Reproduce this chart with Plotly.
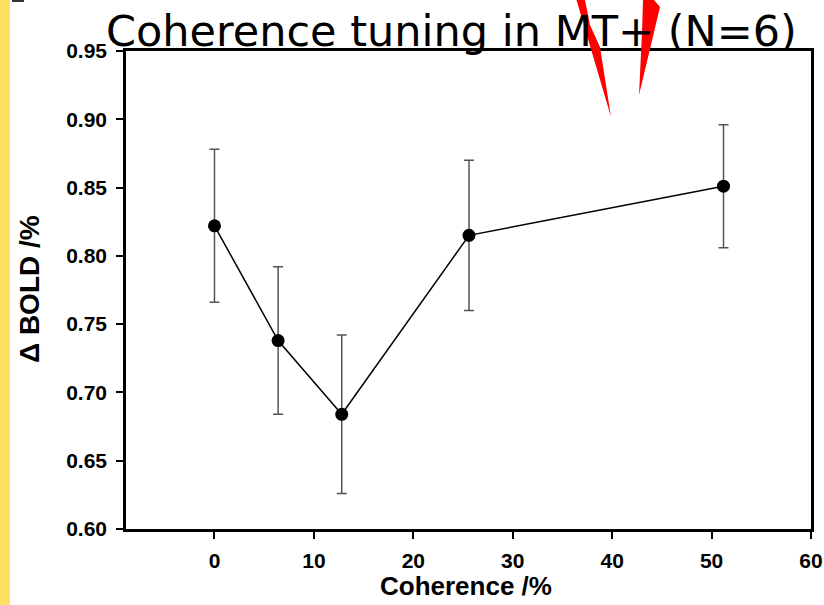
import plotly.graph_objects as go

# Data
coherence = [0, 6.4, 12.8, 25.6, 51.2]
bold_change = [0.822, 0.738, 0.684, 0.815, 0.851]
bold_err = [0.056, 0.054, 0.058, 0.055, 0.045]
x_ticks = [0, 10, 20, 30, 40, 50, 60]
y_ticks = [0.60, 0.65, 0.70, 0.75, 0.80, 0.85, 0.90, 0.95]
y_tick_labels = ["0.60", "0.65", "0.70", "0.75", "0.80", "0.85", "0.90", "0.95"]

W, H = 824, 605
L, T, PW, PH = 126, 51, 685, 478
R = W - L - PW
B = H - T - PH


def px(x):
    return (x - L) / PW


def py(y):
    return 1 - (y - T) / PH


fig = go.Figure()
fig.add_trace(go.Scatter(
    x=coherence, y=bold_change,
    mode="lines+markers",
    line=dict(color="black", width=1.5),
    marker=dict(color="black", size=13),
    error_y=dict(type="data", array=bold_err, visible=True,
                 color="#555555", thickness=1.5, width=5),
    showlegend=False,
))

tickfont = dict(family="Liberation Sans, Arial, sans-serif", size=21,
                color="black", weight="bold")
axis_common = dict(
    showgrid=False, zeroline=False, showline=True, linecolor="black",
    linewidth=2.5, mirror=True, ticks="outside", ticklen=7, tickwidth=1.5,
    tickcolor="black", tickfont=tickfont, automargin=False,
)

fig.update_xaxes(range=[-8.9, 60], tickvals=x_ticks, ticklabelstandoff=4,
                 **axis_common)
fig.update_yaxes(range=[0.60, 0.95], tickvals=y_ticks, ticktext=y_tick_labels,
                 ticklabelstandoff=5, **axis_common)

shapes = []
# yellow strip on the left
shapes.append(dict(type="rect", xref="paper", yref="paper",
                   x0=px(0), x1=px(10), y0=py(H), y1=py(0),
                   fillcolor="#FFE066", line=dict(width=0), layer="below"))
# small dark fragment at top-left
shapes.append(dict(type="rect", xref="paper", yref="paper",
                   x0=px(12), x1=px(24), y0=py(2), y1=py(0),
                   fillcolor="#333333", line=dict(width=0)))


def path_from(points):
    return "M " + " L ".join(f"{px(a):.5f},{py(b):.5f}" for a, b in points) + " Z"


# red arrow heads
shapes.append(dict(type="path", xref="paper", yref="paper",
                   path=path_from([(576.5, 0), (585, 0), (590, 25), (600, 47), (611, 117)]),
                   fillcolor="#FF0000", line=dict(width=0)))
shapes.append(dict(type="path", xref="paper", yref="paper",
                   path=path_from([(643, 0), (654, 0), (660, 7), (639, 95), (642, 33)]),
                   fillcolor="#FF0000", line=dict(width=0)))

annotations = [
    dict(text="Coherence tuning in MT+ (N=6)", xref="paper", yref="paper",
         x=px(104), y=py(31), xanchor="left", yanchor="middle", showarrow=False,
         font=dict(family="DejaVu Sans, Verdana, sans-serif", size=43, color="black")),
    dict(text="Coherence /%", xref="paper", yref="paper",
         x=px(466), y=py(586), xanchor="center", yanchor="middle", showarrow=False,
         borderpad=0,
         font=dict(family="Liberation Sans, Arial, sans-serif", size=26,
                   color="black", weight="bold")),
    dict(text="Δ BOLD /%", xref="paper", yref="paper",
         x=px(29), y=py(289), xanchor="center", yanchor="middle", showarrow=False,
         textangle=-90,
         font=dict(family="Liberation Sans, Arial, sans-serif", size=28,
                   color="black", weight="bold")),
]

fig.update_layout(
    width=W, height=H,
    margin=dict(l=L, r=R, t=T, b=B, pad=0, autoexpand=False),
    paper_bgcolor="white", plot_bgcolor="white",
    shapes=shapes, annotations=annotations,
)

fig.write_html(
    "out.html",
    config={"displayModeBar": False},
    post_script="document.body.style.margin='0';document.body.style.overflow='hidden';",
)
